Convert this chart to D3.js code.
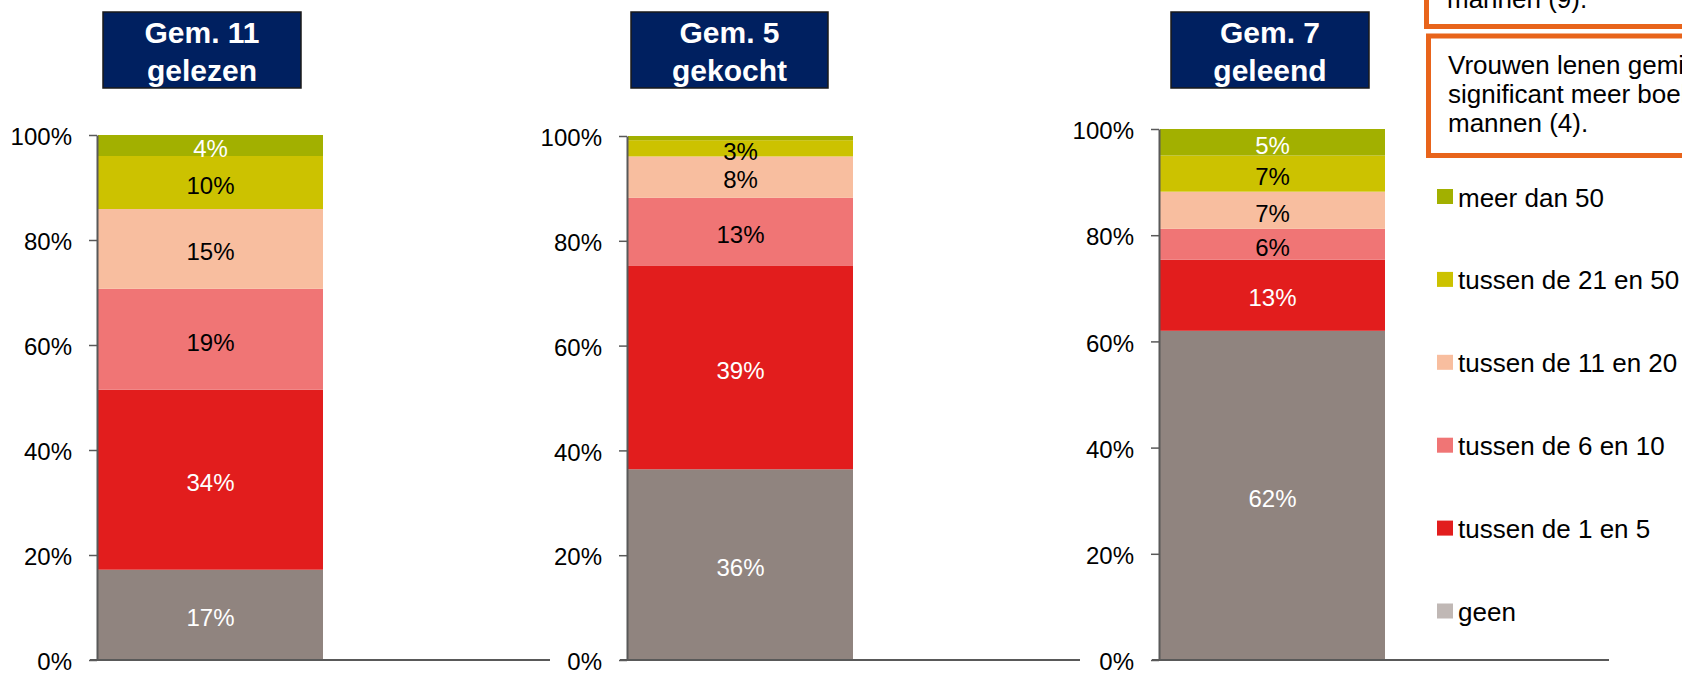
<!DOCTYPE html>
<html>
<head>
<meta charset="utf-8">
<script src="https://cdn.jsdelivr.net/npm/d3@7"></script>
<style>
  html, body { margin: 0; padding: 0; background: #fff; overflow: hidden; }
  svg { display: block; font-family: "Liberation Sans", Arial, sans-serif; }
</style>
</head>
<body>
<svg id="chart" width="1682" height="674"></svg>
<script>
// ---- data ----
const categories = ["geen", "tussen de 1 en 5", "tussen de 6 en 10", "tussen de 11 en 20", "tussen de 21 en 50", "meer dan 50"];
const panelNames = ["gelezen", "gekocht", "geleend"];
const panelTitles = [["Gem. 11", "gelezen"], ["Gem. 5", "gekocht"], ["Gem. 7", "geleend"]];
const gelezen = [17.2, 34.3, 19.2, 15.2, 10.1, 4.0];
const gekocht = [36.4, 38.9, 12.9, 7.9, 3.1, 0.8];
const geleend = [62.0, 13.4, 5.8, 7.0, 6.8, 5.0];
const yTicks = [0, 20, 40, 60, 80, 100];
const note1Lines = ["mannen (9)."];
const note2Lines = ["Vrouwen lenen gemiddeld", "significant meer boeken dan", "mannen (4)."];

// ---- styles ----
const colors = ["#90847F", "#E21D1D", "#F07575", "#F8BE9F", "#CCC200", "#A2B000"];
const legendColors = ["#C0B8B5", "#E21D1D", "#F07575", "#F8BE9F", "#CCC200", "#A2B000"];
const labelColors = ["#fff", "#fff", "#000", "#000", "#000", "#fff"];
const layout = [
  { ax: 97,   top: 135, plotW: 453, tx0: 103,  tx1: 301 },
  { ax: 627,  top: 136, plotW: 453, tx0: 631,  tx1: 828 },
  { ax: 1159, top: 129, plotW: 450, tx0: 1171, tx1: 1369 }
];
const bottom = 660, barW = 225, axisColor = "#595959";

const svg = d3.select("#chart");
const seriesValues = [gelezen, gekocht, geleend];

seriesValues.forEach((vals, pi) => {
  const L = layout[pi];
  const g = svg.append("g");
  const y = d3.scaleLinear().domain([0, 1]).range([bottom, L.top]);
  const x = d3.scaleBand().domain([panelNames[pi]]).range([L.ax + 1, L.ax + 1 + barW]);

  const row = {}; vals.forEach((v, i) => row[i] = v);
  const stacked = d3.stack().keys(d3.range(categories.length)).offset(d3.stackOffsetExpand)([row]);

  // bars
  g.selectAll("rect.seg").data(stacked).join("rect")
    .attr("class", "seg")
    .attr("x", x(panelNames[pi]))
    .attr("width", x.bandwidth())
    .attr("y", s => y(s[0][1]))
    .attr("height", s => y(s[0][0]) - y(s[0][1]))
    .attr("fill", (s, i) => colors[i]);

  // data labels
  g.selectAll("text.lbl").data(stacked.filter((s, i) => vals[i] >= 1.5)).join("text")
    .attr("class", "lbl")
    .attr("x", x(panelNames[pi]) + x.bandwidth() / 2)
    .attr("y", s => y((s[0][0] + s[0][1]) / 2))
    .attr("dy", "0.47em")
    .attr("text-anchor", "middle")
    .attr("font-size", 24)
    .attr("fill", s => labelColors[s.key])
    .text(s => Math.round(vals[s.key]) + "%");

  // y axis
  const yAxis = d3.axisLeft(y).tickValues(yTicks.map(t => t / 100))
    .tickFormat(t => Math.round(t * 100) + "%").tickSizeInner(8).tickSizeOuter(0).tickPadding(17);
  const ya = g.append("g").attr("transform", `translate(${L.ax},0)`).call(yAxis);
  ya.select(".domain").attr("stroke", axisColor).attr("stroke-width", 2);
  ya.selectAll(".tick line").attr("stroke", axisColor).attr("stroke-width", 1.5);
  ya.selectAll(".tick text").attr("font-size", 24).attr("fill", "#000")
    .attr("font-family", "Liberation Sans, Arial, sans-serif").attr("dy", "0.4em");

  // x axis baseline
  g.append("line")
    .attr("x1", L.ax - 7).attr("x2", L.ax + L.plotW)
    .attr("y1", bottom).attr("y2", bottom)
    .attr("stroke", axisColor).attr("stroke-width", 2);

  // title box
  g.append("rect")
    .attr("x", L.tx0).attr("y", 12).attr("width", L.tx1 - L.tx0).attr("height", 76)
    .attr("fill", "#002060").attr("stroke", "#1a1a1a").attr("stroke-width", 1.5);
  const cx = (L.tx0 + L.tx1) / 2;
  g.append("text").attr("x", cx).attr("y", 43).attr("text-anchor", "middle")
    .attr("font-size", 30).attr("font-weight", "bold").attr("fill", "#fff").text(panelTitles[pi][0]);
  g.append("text").attr("x", cx).attr("y", 81).attr("text-anchor", "middle")
    .attr("font-size", 30).attr("font-weight", "bold").attr("fill", "#fff").text(panelTitles[pi][1]);
});

// legend (reverse order: top = meer dan 50)
const legendY = d3.scalePoint().domain(d3.range(categories.length).reverse()).range([196.5, 611]);
const lg = svg.append("g");
d3.range(categories.length).forEach(i => {
  lg.append("rect").attr("x", 1437).attr("y", legendY(i) - 7.5).attr("width", 16).attr("height", 15)
    .attr("fill", legendColors[i]);
  lg.append("text").attr("x", 1458).attr("y", legendY(i) + 10).attr("font-size", 26).attr("fill", "#000")
    .text(categories[i]);
});

// note boxes (cut off by the right/top edge, as in the reference)
const orange = "#E8641B";
svg.append("rect").attr("x", 1426.5).attr("y", -60).attr("width", 400).attr("height", 86.5)
  .attr("fill", "#fff").attr("stroke", orange).attr("stroke-width", 5);
note1Lines.forEach((t, i) => {
  svg.append("text").attr("x", 1447).attr("y", 8 + i * 29).attr("font-size", 26).attr("fill", "#000").text(t);
});
svg.append("rect").attr("x", 1428.5).attr("y", 36).attr("width", 400).attr("height", 119.5)
  .attr("fill", "#fff").attr("stroke", orange).attr("stroke-width", 5);
note2Lines.forEach((t, i) => {
  svg.append("text").attr("x", 1448).attr("y", 74 + i * 29).attr("font-size", 26).attr("fill", "#000").text(t);
});
</script>
</body>
</html>
